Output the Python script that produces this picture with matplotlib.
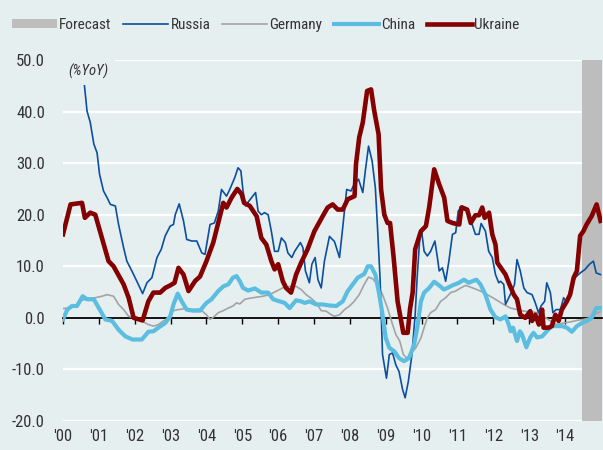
import matplotlib
matplotlib.use("Agg")
import matplotlib.pyplot as plt
from matplotlib import font_manager
from matplotlib.patches import Patch
from matplotlib.lines import Line2D

# pick a narrow sans if one is installed, else Liberation Sans
installed = {f.name for f in font_manager.fontManager.ttflist}
narrow = [n for n in ["Liberation Sans Narrow", "Roboto Condensed", "Arial Narrow"] if n in installed]
if narrow:
    plt.rcParams["font.family"] = [narrow[0], "DejaVu Sans"]
    leg_size = 11
    tick_size = 12
else:
    plt.rcParams["font.family"] = ["Liberation Sans", "DejaVu Sans"]
    leg_size = 10
    tick_size = 11

years = list(range(2000, 2015))
year_labels = ["'%02d" % (y % 100) for y in years]
y_ticks = [-20, -10, 0, 10, 20, 30, 40, 50]
forecast_start = 2014.47

# Ukraine
ukraine_t = [2000.0, 2000.21, 2000.53, 2000.61, 2000.76, 2000.9,
             2001.27, 2001.41, 2001.69, 2001.83, 2001.97,
             2002.22, 2002.38, 2002.52, 2002.71, 2002.85, 2002.99,
             2003.11, 2003.22, 2003.36, 2003.5, 2003.69, 2003.82,
             2004.0, 2004.19, 2004.47, 2004.56, 2004.7, 2004.86, 2004.98,
             2005.05, 2005.21, 2005.4, 2005.53, 2005.67, 2005.81, 2005.9,
             2006.0, 2006.13, 2006.22, 2006.36, 2006.5, 2006.64, 2006.82,
             2007.01, 2007.24, 2007.38, 2007.52, 2007.66, 2007.8, 2007.94,
             2008.13, 2008.17, 2008.26, 2008.36, 2008.48, 2008.59, 2008.68, 2008.8, 2008.87, 2008.96,
             2009.05, 2009.12, 2009.22, 2009.33, 2009.49, 2009.61, 2009.68, 2009.75, 2009.82, 2009.98,
             2010.12, 2010.21, 2010.29, 2010.35, 2010.49, 2010.63, 2010.72, 2010.86,
             2011.05, 2011.11, 2011.27, 2011.37, 2011.5, 2011.6, 2011.69, 2011.76, 2011.88, 2011.97,
             2012.06, 2012.11, 2012.24, 2012.34, 2012.43, 2012.57, 2012.66, 2012.75, 2012.89,
             2013.03, 2013.08, 2013.17, 2013.27, 2013.36, 2013.4, 2013.54, 2013.63, 2013.73, 2013.82, 2013.91,
             2014.05, 2014.14, 2014.24, 2014.33, 2014.42, 2014.51, 2014.6, 2014.74, 2014.88, 2014.99]
ukraine_v = [16.2, 22.0, 22.3, 19.4, 20.4, 20.0,
             11.0, 10.0, 6.5, 3.9, 0.0,
             -0.5, 3.2, 4.9, 4.9, 5.8, 6.3,
             6.8, 9.7, 8.4, 5.2, 7.2, 8.0,
             11.0, 14.6, 22.3, 21.4, 23.3, 25.0, 24.0,
             22.3, 21.7, 19.7, 15.5, 14.2, 11.0, 9.4,
             10.4, 7.1, 5.8, 4.9, 8.4, 10.7, 13.3,
             16.8, 19.7, 21.4, 22.0, 21.0, 21.0, 23.0,
             23.6, 29.8, 35.0, 37.9, 44.0, 44.3, 40.1, 35.6, 24.9, 20.0,
             18.4, 18.4, 11.7, 3.2, -2.9, -2.9, 1.9, 4.9, 13.3, 16.8,
             17.8, 21.4, 25.6, 28.8, 25.9, 23.3, 18.8, 18.4,
             18.1, 21.4, 21.0, 18.4, 19.9, 19.9, 21.4, 19.4, 20.4, 16.2,
             14.2, 10.7, 9.4, 8.4, 6.8, 4.5, 3.6, 0.6, 0.0,
             1.3, -0.6, 0.6, -1.3, 1.6, -1.9, -1.9, -1.6, 0.6, -0.6, 1.6,
             3.2, 4.5, 7.8, 9.1, 15.9, 16.8, 18.1, 19.7, 22.0, 18.8]

# Russia
russia_t = [2000.58, 2000.67, 2000.76, 2000.86, 2000.95,
            2001.02, 2001.13, 2001.23, 2001.32, 2001.46, 2001.55, 2001.69, 2001.78, 2001.92,
            2002.1, 2002.22, 2002.34, 2002.48, 2002.62, 2002.74, 2002.85, 2002.99,
            2003.08, 2003.13, 2003.24, 2003.36, 2003.45, 2003.59, 2003.73, 2003.87, 2003.96,
            2004.1, 2004.22, 2004.33, 2004.42, 2004.56, 2004.65, 2004.79, 2004.88, 2004.96,
            2005.02, 2005.09, 2005.19, 2005.37, 2005.44, 2005.53, 2005.62, 2005.72, 2005.81, 2005.9,
            2006.0, 2006.09, 2006.2, 2006.27, 2006.38, 2006.46, 2006.62, 2006.69, 2006.76, 2006.87, 2006.94,
            2007.03, 2007.11, 2007.2, 2007.29, 2007.43, 2007.57, 2007.71, 2007.8, 2007.91,
            2008.03, 2008.12, 2008.24, 2008.36, 2008.43, 2008.52, 2008.62, 2008.71, 2008.77, 2008.84, 2008.91,
            2009.02, 2009.1, 2009.19, 2009.28, 2009.37, 2009.47, 2009.54, 2009.63, 2009.73, 2009.82, 2009.88, 2009.95,
            2010.0, 2010.07, 2010.16, 2010.25, 2010.37, 2010.44, 2010.49, 2010.58, 2010.67, 2010.76, 2010.86, 2010.95,
            2011.02, 2011.13, 2011.22, 2011.32, 2011.41, 2011.5, 2011.6, 2011.66, 2011.78, 2011.87, 2011.97,
            2012.06, 2012.15, 2012.2, 2012.29, 2012.34, 2012.43, 2012.52, 2012.59, 2012.66, 2012.75, 2012.85, 2012.94,
            2013.08, 2013.17, 2013.26, 2013.33, 2013.43, 2013.49, 2013.59, 2013.66, 2013.75, 2013.87, 2013.96,
            2014.05, 2014.14, 2014.28, 2014.42, 2014.56, 2014.68, 2014.79, 2014.87, 2014.99]
russia_v = [46.3, 40.1, 37.9, 33.7, 32.0,
            27.8, 24.6, 23.3, 22.0, 21.7, 18.1, 13.6, 11.0, 9.1,
            6.5, 4.7, 6.8, 7.8, 11.7, 13.3, 15.9, 17.8,
            18.1, 20.0, 22.1, 18.8, 15.2, 14.9, 14.9, 12.6, 12.3,
            18.1, 18.4, 20.7, 24.9, 23.6, 24.9, 27.2, 29.1, 28.5,
            24.6, 21.7, 22.7, 24.3, 20.7, 20.0, 20.4, 20.0, 16.8, 12.9,
            12.9, 15.5, 14.6, 12.6, 11.7, 12.9, 14.6, 13.6, 9.1, 6.8, 10.4,
            11.7, 7.4, 5.8, 11.0, 15.8, 14.8, 11.7, 17.5, 24.9,
            24.6, 25.9, 26.9, 24.3, 28.5, 33.3, 30.4, 25.2, 17.5, 7.8, -7.1,
            -11.7, -7.1, -6.8, -9.1, -10.4, -13.9, -15.5, -12.3, -7.1, 0.6, 8.4, 15.5,
            16.8, 12.9, 12.0, 12.9, 14.9, 11.7, 9.1, 9.7, 7.1, 11.0, 16.2, 16.5,
            20.7, 21.7, 21.4, 19.4, 18.1, 16.2, 16.2, 18.3, 16.8, 12.9, 11.7,
            8.4, 6.8, 7.1, 6.5, 2.6, 3.9, 5.2, 6.5, 11.3, 9.1, 5.8, 4.9,
            4.5, 2.9, 1.0, 2.3, 3.2, 6.8, 4.9, 1.0, 1.6, 1.6, 3.9,
            2.9, 5.2, 7.8, 8.7, 9.4, 10.4, 11.0, 8.7, 8.4]

# China
china_t = [2000.0, 2000.12, 2000.25, 2000.39, 2000.55, 2000.67, 2000.86,
           2001.0, 2001.18, 2001.37, 2001.55, 2001.74, 2001.94,
           2002.2, 2002.38, 2002.52, 2002.66, 2002.85, 2002.99,
           2003.08, 2003.2, 2003.31, 2003.45, 2003.63, 2003.82,
           2004.0, 2004.14, 2004.33, 2004.47, 2004.61, 2004.74, 2004.84, 2004.93,
           2005.02, 2005.16, 2005.35, 2005.53, 2005.72, 2005.86,
           2006.04, 2006.18, 2006.32, 2006.5, 2006.64, 2006.74, 2006.87,
           2007.06, 2007.24, 2007.43, 2007.62, 2007.8, 2007.94,
           2008.08, 2008.22, 2008.4, 2008.5, 2008.59, 2008.71, 2008.82, 2008.91,
           2009.0, 2009.1, 2009.24, 2009.37, 2009.51, 2009.65, 2009.79, 2009.88, 2009.98,
           2010.07, 2010.21, 2010.35, 2010.49, 2010.62, 2010.72, 2010.86,
           2011.04, 2011.18, 2011.32, 2011.41, 2011.53, 2011.64, 2011.78, 2011.92,
           2012.06, 2012.2, 2012.34, 2012.43, 2012.48, 2012.55, 2012.66, 2012.74, 2012.8, 2012.92,
           2013.03, 2013.12, 2013.22, 2013.36, 2013.49, 2013.63, 2013.77, 2013.91,
           2014.05, 2014.19, 2014.33, 2014.47, 2014.61, 2014.74, 2014.87, 2014.99]
china_v = [-0.3, 1.6, 2.3, 2.3, 4.2, 3.6, 3.6,
           1.9, -0.3, -0.6, -2.3, -3.6, -4.2,
           -4.2, -2.7, -2.6, -1.9, -1.0, 0.3,
           2.6, 4.7, 3.2, 1.6, 1.4, 1.4,
           2.9, 3.6, 5.2, 6.1, 6.5, 7.8, 8.1, 7.1,
           5.8, 5.3, 5.7, 4.9, 4.9, 3.6,
           3.2, 2.9, 1.9, 3.4, 3.2, 2.9, 3.2,
           2.6, 2.6, 2.4, 2.3, 3.2, 5.2,
           6.5, 7.8, 8.5, 10.0, 10.0, 8.4, 4.5, 0.6,
           -3.9, -5.8, -6.5, -7.8, -8.4, -7.8, -5.2, -1.9, 3.2,
           4.9, 5.8, 7.0, 6.3, 5.5, 5.8, 6.3,
           6.8, 7.4, 6.8, 7.1, 7.4, 6.5, 4.5, 1.6,
           0.1, -0.3, 0.3, -1.3, -2.6, -1.9, -4.5, -2.6, -3.2, -5.7,
           -3.8, -2.9, -3.8, -3.6, -2.6, -1.6, -1.6, -1.6,
           -1.9, -2.7, -1.6, -1.0, -0.6, 0.0, 1.9, 1.9]

# Germany
germany_t = [2000.0, 2000.16, 2000.35, 2000.53, 2000.72, 2000.9,
             2001.09, 2001.23, 2001.41, 2001.55, 2001.69, 2001.83,
             2002.01, 2002.2, 2002.38, 2002.52, 2002.66, 2002.8, 2002.94,
             2003.08, 2003.22, 2003.41, 2003.63, 2003.82,
             2004.0, 2004.1, 2004.19, 2004.33, 2004.47, 2004.61, 2004.74, 2004.84, 2004.93,
             2005.07, 2005.21, 2005.39, 2005.58, 2005.76, 2005.9,
             2006.04, 2006.18, 2006.36, 2006.5, 2006.64, 2006.78, 2006.92,
             2007.06, 2007.2, 2007.34, 2007.48, 2007.57, 2007.71, 2007.85, 2007.99,
             2008.12, 2008.26, 2008.4, 2008.52, 2008.63, 2008.77, 2008.91,
             2009.05, 2009.19, 2009.28, 2009.39, 2009.49, 2009.58, 2009.7, 2009.84, 2009.98,
             2010.07, 2010.16, 2010.25, 2010.39, 2010.53, 2010.67, 2010.81, 2010.95,
             2011.09, 2011.23, 2011.46, 2011.64, 2011.83,
             2012.01, 2012.15, 2012.29, 2012.48, 2012.66, 2012.85,
             2013.03, 2013.22, 2013.4, 2013.59, 2013.77, 2013.96,
             2014.14, 2014.33, 2014.51, 2014.7, 2014.9, 2014.99]
germany_v = [1.8, 1.9, 2.3, 3.4, 3.8, 3.9,
             4.2, 4.5, 4.2, 2.6, 1.6, 0.3,
             0.0, -0.6, -1.3, -1.6, -1.3, -0.6, 0.0,
             1.4, 1.6, 1.8, 1.6, 1.7,
             0.6, -0.3, 0.1, 1.0, 1.4, 1.9, 2.3, 2.9, 2.7,
             3.6, 3.8, 4.0, 4.2, 4.5, 5.0,
             5.5, 6.0, 6.1, 6.1, 5.5, 4.5, 3.8,
             2.9, 1.4, 1.3, 0.6, 0.3, 0.6, 1.6, 2.3,
             3.2, 4.5, 6.5, 7.9, 7.6, 6.5, 4.5,
             1.9, -1.3, -3.2, -4.5, -7.1, -7.8, -7.0, -5.8, -3.9,
             -1.9, 0.0, 1.0, 1.6, 3.2, 3.9, 4.9, 5.2,
             5.8, 6.3, 5.7, 5.2, 4.5,
             3.8, 3.2, 2.6, 1.9, 1.6, 1.3,
             1.2, 1.0, 0.3, -0.6, -1.3, -1.0,
             -0.8, -0.5, -0.3, 0.0, 1.0, 1.2]

bg = "#e6eff0"
txt = "#333333"
c_russia = "#0b4f9e"
c_germany = "#a3a3a3"
c_china = "#5bbde0"
c_ukraine = "#850000"
c_forecast = "#bdbdbd"

fig = plt.figure(figsize=(6.03, 4.5), dpi=100, facecolor=bg)
ax = fig.add_axes([63 / 603, 29 / 450, 539 / 603, 361 / 450], facecolor=bg)

ax.axvspan(forecast_start, 2016, color=c_forecast, lw=0, zorder=1.5)

ax.plot(germany_t, germany_v, color=c_germany, lw=1.2, zorder=3)
ax.plot(russia_t, russia_v, color=c_russia, lw=1.2, zorder=4)
ax.plot(china_t, china_v, color=c_china, lw=3.0, zorder=5)
ax.plot(ukraine_t, ukraine_v, color=c_ukraine, lw=3.3, zorder=6)

ax.set_xlim(2000, 2015.03)
ax.set_ylim(-20, 50)
ax.set_yticks(y_ticks)
ax.set_yticklabels(["%.1f" % v for v in y_ticks])
ax.yaxis.grid(True, color="white", lw=1.6)
ax.set_axisbelow(True)
ax.tick_params(axis="y", length=0, pad=13, labelsize=tick_size, labelcolor=txt)

for s in ["left", "right", "top"]:
    ax.spines[s].set_visible(False)
ax.spines["bottom"].set_position(("data", 0))
ax.spines["bottom"].set_color("black")
ax.spines["bottom"].set_linewidth(1.3)
ax.set_xticks(years)
ax.tick_params(axis="x", direction="out", length=4, width=1, color="black",
               labelbottom=False)

sec = ax.secondary_xaxis("bottom")
sec.set_xticks(years)
sec.set_xticklabels(year_labels)
sec.tick_params(length=0, pad=6, labelsize=tick_size, labelcolor=txt)
sec.spines["bottom"].set_visible(False)

ax.text(0.009, 0.99, "(%YoY)", transform=ax.transAxes, style="italic",
        fontsize=10.5, color=txt, va="top", ha="left", zorder=10,
        bbox=dict(boxstyle="square,pad=0.45", facecolor=bg, edgecolor="none"))

handles = [Patch(facecolor=c_forecast, edgecolor="none"),
           Line2D([], [], color=c_russia, lw=1.2),
           Line2D([], [], color=c_germany, lw=1.2),
           Line2D([], [], color=c_china, lw=3.0),
           Line2D([], [], color=c_ukraine, lw=3.3)]
labels = ["Forecast", "Russia", "Germany", "China", "Ukraine"]
fig.legend(handles, labels, loc="center left", bbox_to_anchor=(12 / 603, 1 - 25 / 450),
           ncol=5, frameon=False, fontsize=leg_size, handlelength=2.95, handleheight=0.6,
           handletextpad=0.15, columnspacing=0.75, labelcolor=txt, borderaxespad=0,
           borderpad=0)

fig.savefig("out.png", dpi=100, facecolor=bg)
